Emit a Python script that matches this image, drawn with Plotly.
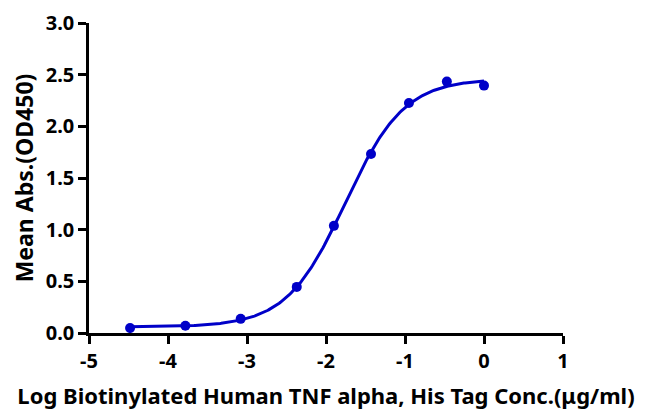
import numpy as np
import plotly.graph_objects as go

log_conc = [-4.48, -3.78, -3.08, -2.37, -1.90, -1.43, -0.95, -0.47, 0.0]
mean_abs = [0.048, 0.070, 0.137, 0.446, 1.037, 1.733, 2.225, 2.433, 2.394]

x_ticks = [-5, -4, -3, -2, -1, 0, 1]
y_ticks = [0.0, 0.5, 1.0, 1.5, 2.0, 2.5, 3.0]
y_tick_text = ["0.0", "0.5", "1.0", "1.5", "2.0", "2.5", "3.0"]

x_title = "Log Biotinylated Human TNF alpha, His Tag Conc.(μg/ml)"
y_title = "Mean Abs.(OD450)"

# 4-parameter logistic fit of the points (Levenberg-Marquardt)
xd = np.array(log_conc)
yd = np.array(mean_abs)


def f4(p, x):
    b, t, c, h = p
    return b + (t - b) / (1 + 10 ** ((c - x) * h))


p = np.array([yd.min(), yd.max(), -1.9, 1.2])
lam = 1e-3
for _ in range(500):
    r = yd - f4(p, xd)
    J = np.zeros((len(xd), 4))
    for i in range(4):
        dp = np.zeros(4)
        dp[i] = 1e-6
        J[:, i] = (f4(p + dp, xd) - f4(p - dp, xd)) / 2e-6
    A = J.T @ J
    g = J.T @ r
    step = np.linalg.solve(A + lam * np.diag(np.diag(A)), g)
    pn = p + step
    if np.sum((yd - f4(pn, xd)) ** 2) < np.sum(r ** 2):
        p = pn
        lam *= 0.5
    else:
        lam *= 4

xc = np.linspace(xd.min(), xd.max(), 300)
yc = f4(p, xc)

blue = "#0000c8"
font = "Noto Sans"

fig = go.Figure()
fig.add_trace(go.Scatter(x=xc, y=yc, mode="lines", line=dict(color=blue, width=3),
                         showlegend=False, hoverinfo="skip"))
fig.add_trace(go.Scatter(x=log_conc, y=mean_abs, mode="markers",
                         marker=dict(color=blue, size=10), showlegend=False))

fig.update_layout(
    width=666, height=414,
    margin=dict(l=81, r=111, t=15, b=89),
    plot_bgcolor="white", paper_bgcolor="white",
    font=dict(family=font, color="black"),
)
fig.update_xaxes(
    range=[-5, 1], tickvals=x_ticks, ticktext=[str(v) for v in x_ticks],
    showgrid=False, zeroline=False, showline=True, linecolor="black", linewidth=2.5,
    ticks="outside", ticklen=8, tickwidth=2.5, tickcolor="black", automargin=False,
    ticklabeloverflow="allow",
    tickfont=dict(size=20, family=font, weight="bold"),
    title=dict(text=x_title, font=dict(size=22, family=font, weight="bold"), standoff=16),
)
fig.update_yaxes(
    range=[0, 3.0], tickvals=y_ticks, ticktext=y_tick_text,
    showgrid=False, zeroline=False, showline=True, linecolor="black", linewidth=2.5,
    ticks="outside", ticklen=8, tickwidth=2.5, tickcolor="black", automargin=False,
    ticklabeloverflow="allow",
    tickfont=dict(size=20, family=font, weight="bold"),
    title=dict(text=y_title, font=dict(size=23, family=font, weight="bold"), standoff=8),
)

fig.write_html("out.html")
